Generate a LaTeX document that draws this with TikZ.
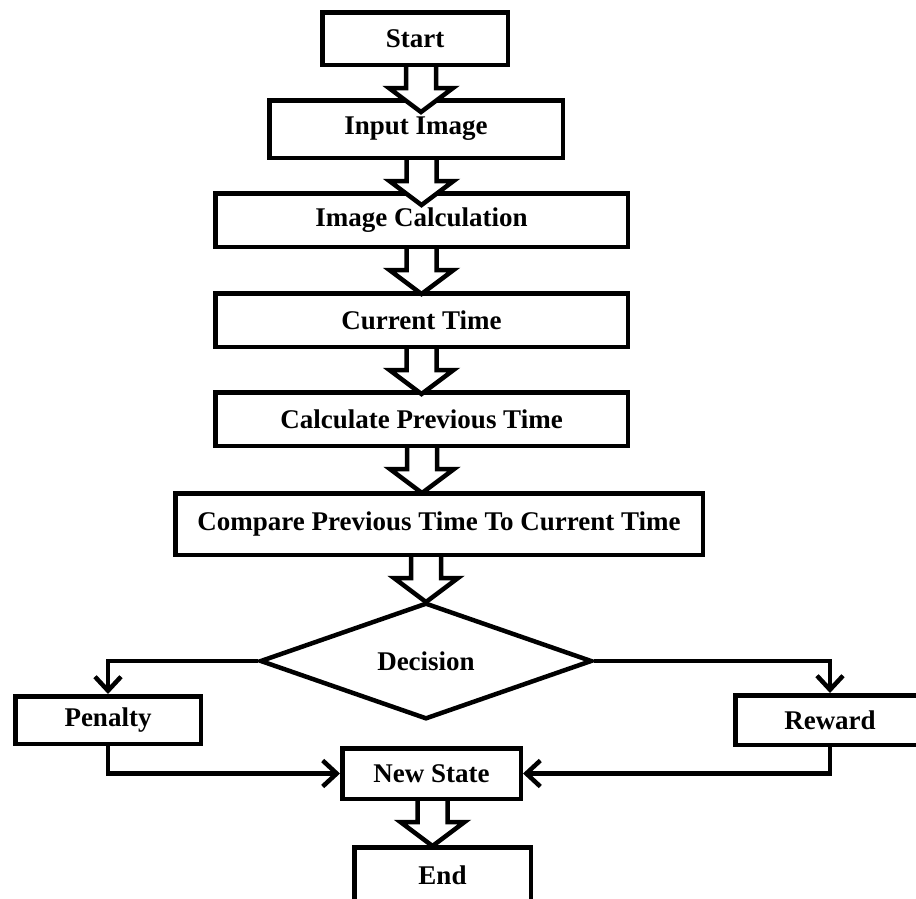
\documentclass[tikz,border=0pt]{standalone}
\usepackage{fontspec}
\setmainfont{Liberation Serif}
\usepackage{tikz}
\usetikzlibrary{positioning,arrows.meta,shapes.geometric,calc}

\newcommand{\fatarrow}[3][0pt]{%
  \fill[white] let \p1=(#2.south), \p2=(#3.north) in
    (\x2+#1-15pt,\y1-3pt) -- (\x2+#1-15pt,\y1-21pt) -- (\x2+#1-32pt,\y1-21pt) -- (\x2+#1,\y1-45pt)
    -- (\x2+#1+32pt,\y1-21pt) -- (\x2+#1+15pt,\y1-21pt) -- (\x2+#1+15pt,\y1-3pt) -- cycle;
  \draw[fat] let \p1=(#2.south), \p2=(#3.north) in
    (\x2+#1-15pt,\y1) -- (\x2+#1-15pt,\y1-21pt) -- (\x2+#1-32pt,\y1-21pt) -- (\x2+#1,\y1-45pt)
    -- (\x2+#1+32pt,\y1-21pt) -- (\x2+#1+15pt,\y1-21pt) -- (\x2+#1+15pt,\y1);}

\begin{document}
\begin{tikzpicture}[x=1pt, y=-1pt,
    box/.style={rectangle, draw, line width=4.5pt, inner sep=0pt, font=\bfseries\fontsize{27}{31}\selectfont},
    decide/.style={diamond, draw, line width=4.5pt, inner sep=0pt, font=\bfseries\fontsize{27}{31}\selectfont},
    conn/.style={line width=4.5pt, -{Straight Barb[length=14pt, width=26pt]}},
    fat/.style={line width=4.5pt, line join=miter}]
      \useasboundingbox (0,0) rectangle (916,898);
      \clip (0,0) rectangle (916,898);
      \node (start) [box, minimum width=185.5pt, minimum height=52.5pt] at (415,38.5) {Start};
      \node (input) [box, minimum width=293.5pt, minimum height=57.5pt] at (416,129) {Input Image};
      \node (imgcalc) [box, minimum width=412.5pt, minimum height=53.5pt] at (421.5,220) {Image Calculation};
      \node (current) [box, minimum width=412.5pt, minimum height=53.5pt] at (421.5,320) {Current Time};
      \node (calcprev) [box, minimum width=412.5pt, minimum height=53.5pt] at (421.5,419) {Calculate Previous Time};
      \node (compare) [box, minimum width=527.5pt, minimum height=61.5pt] at (439,524) {Compare Previous Time To Current Time};
      \node (decision) [decide, minimum width=332pt, minimum height=113pt] at (426,661) {Decision};
      \node (penalty) [box, minimum width=185.5pt, minimum height=47.5pt] at (108,720) {Penalty};
      \node (reward) [box, minimum width=189.5pt, minimum height=49.5pt] at (830,720) {Reward};
      \node (newstate) [box, minimum width=178.5pt, minimum height=50.5pt] at (431.5,773.5) {New State};
      \node (end) [box, minimum width=176.5pt, minimum height=55.5pt] at (442.5,875) {End};
      \fatarrow[5pt]{start}{input}
      \fatarrow{input}{imgcalc}
      \fatarrow{imgcalc}{current}
      \fatarrow{current}{calcprev}
      \fatarrow[-17pt]{calcprev}{compare}
      \fatarrow{compare}{decision}
      \fatarrow[-10pt]{newstate}{end}
      \draw[conn] (decision.west) -| (penalty.north);
      \draw[conn] (decision.east) -| (reward.north);
      \draw[conn] (penalty.south) |- (newstate.west);
      \draw[conn] (reward.south) |- (newstate.east);
  \end{tikzpicture}
\end{document}
